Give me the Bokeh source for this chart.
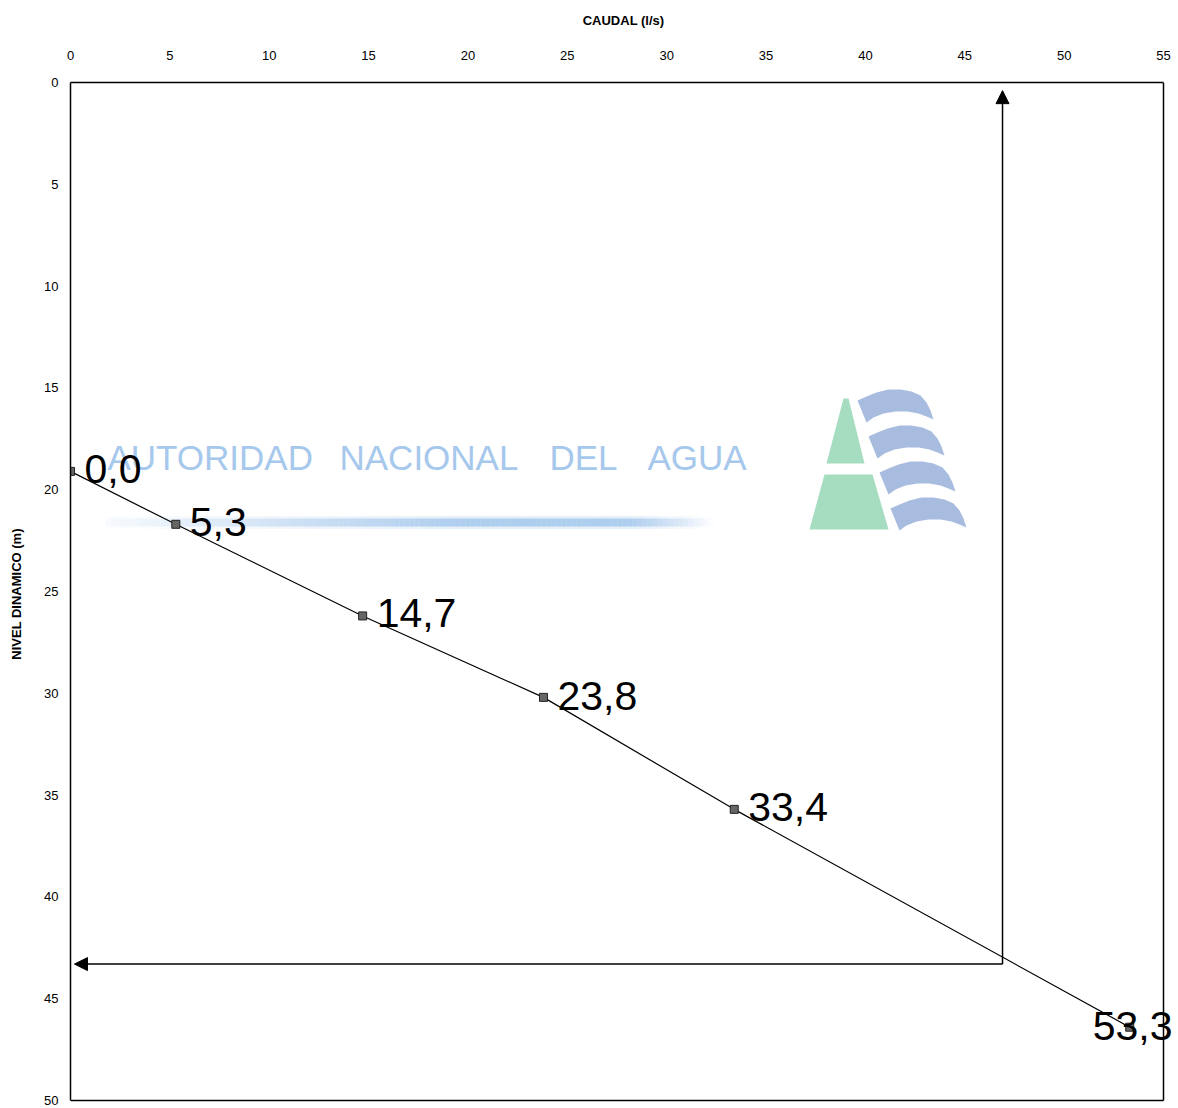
from bokeh.plotting import figure
from bokeh.models import ColumnDataSource, LabelSet, Label, Arrow, NormalHead, Range1d, FixedTicker
from bokeh.core.properties import value
from bokeh.embed import file_html
from bokeh.resources import INLINE

# ---- data ----
caudal = [0.0, 5.3, 14.7, 23.8, 33.4, 53.3]          # l/s
nivel = [19.1, 21.7, 26.2, 30.2, 35.7, 46.4]          # m
etiquetas = ["0,0", "5,3", "14,7", "23,8", "33,4", "53,3"]
x_ticks = [0, 5, 10, 15, 20, 25, 30, 35, 40, 45, 50, 55]
y_ticks = [0, 5, 10, 15, 20, 25, 30, 35, 40, 45, 50]
caudal_diseno = 46.9
nivel_diseno = 43.3
arrow_top = 0.4
arrow_left = 0.2

FONT = "Liberation Sans"
X_MAX = x_ticks[-1]
Y_MAX = y_ticks[-1]
# the drawing area runs a little past the box so the last label is not cut
X_END = X_MAX * 1106 / 1093
Y_END = Y_MAX * 1023 / 1018

p = figure(width=1178, height=1108, output_backend="svg", toolbar_location=None,
           x_range=Range1d(0, X_END), y_range=Range1d(Y_END, 0),
           x_axis_location="above",
           min_border_left=70, min_border_top=82, min_border_right=2, min_border_bottom=3)
p.background_fill_color = "white"
p.border_fill_color = "white"
p.grid.visible = False
p.outline_line_color = None

for ax, ticks in ((p.xaxis, x_ticks), (p.yaxis, y_ticks)):
    ax.ticker = FixedTicker(ticks=ticks)
    ax.bounds = (ticks[0], ticks[-1])
    ax.major_tick_out = 0
    ax.major_tick_in = 0
    ax.minor_tick_out = 0
    ax.minor_tick_in = 0
    ax.axis_line_color = "black"
    ax.axis_line_width = 1.5
    ax.major_label_text_font = FONT
    ax.major_label_text_font_size = "13px"
    ax.major_label_text_color = "black"
    ax.axis_label_text_font = FONT
    ax.axis_label_text_font_size = "13px"
    ax.axis_label_text_font_style = "bold"
    ax.axis_label_text_color = "black"

p.xaxis.axis_label = "CAUDAL (l/s)"
p.xaxis.major_label_standoff = 23
p.xaxis.axis_label_standoff = 20
p.yaxis.axis_label = "NIVEL DINAMICO (m)"
p.yaxis.major_label_standoff = 12
p.yaxis.axis_label_standoff = 17

# right and bottom sides of the box
p.segment(x0=[X_MAX, 0], y0=[0, Y_MAX], x1=[X_MAX, X_MAX], y1=[Y_MAX, Y_MAX],
          line_color="black", line_width=1.5)

# ---- decoration: watermark (pixel positions converted to data) ----
def dx(px):
    return (px - 70) / (1093 / 55)

def dy(py):
    return (py - 82) / (1018 / 50)

# gradient band
band_x = []
band_a = []
n = 120
for i in range(n):
    t = (i + 0.5) / n
    band_x.append(dx(105 + t * 608))
    if t < 0.6:
        a = 0.05 + 0.6 * (t / 0.6)
    elif t < 0.86:
        a = 0.65
    else:
        a = 0.65 * (1 - (t - 0.86) / 0.14)
    band_a.append(a)
slice_w = dx(105 + 608 / n) - dx(105)
p.rect(x=band_x, y=[dy(522)] * n, width=slice_w, height=8, height_units="screen",
       fill_color="#90bbe8", fill_alpha=band_a, line_color=None)
p.rect(x=band_x, y=[dy(522)] * n, width=slice_w, height=13, height_units="screen",
       fill_color="#90bbe8", fill_alpha=[a * 0.35 for a in band_a], line_color=None)

# logo
green_px = [[(843, 398), (848, 398), (864, 463), (826, 463)],
            [(824, 474), (872, 474), (888, 529), (809, 529)]]
p.patches([[dx(a) for a, b in g] for g in green_px],
          [[dy(b) for a, b in g] for g in green_px],
          fill_color="#a6dcbf", line_color=None)

flag_px = [(857, 400), (866, 396), (876, 392), (888, 389), (900, 389), (911, 391),
           (920, 395), (926, 402), (930, 410), (933, 419), (926, 416), (918, 413),
           (907, 411), (895, 411), (883, 413), (873, 417), (866, 422)]
blue_xs, blue_ys = [], []
for k in range(4):
    blue_xs.append([dx(a + 11 * k) for a, b in flag_px])
    blue_ys.append([dy(b + 36 * k) for a, b in flag_px])
p.patches(blue_xs, blue_ys, fill_color="#a7bcdf", line_color=None)

wm_words = ["AUTORIDAD", "NACIONAL", "DEL", "AGUA"]
wm_left = [107, 339, 549, 647]
for w, lx in zip(wm_words, wm_left):
    p.add_layout(Label(x=dx(lx), y=dy(457), text=w, text_font=FONT,
                       text_font_size="35px", text_color="#a6c8ec",
                       text_baseline="middle", level="underlay"))

# ---- data series ----
src = ColumnDataSource(dict(x=caudal, y=nivel, lab=etiquetas,
                            xo=[14, 14, 14, 14, 14, -37], yo=[2, 2, 3, 1, 2, 1]))
p.line("x", "y", source=src, line_color="black", line_width=1.2)
p.scatter("x", "y", source=src, marker="square", size=8, fill_color="#666666",
          line_color="#222222", line_width=1)

labels = LabelSet(x="x", y="y", text="lab", source=src, x_offset="xo", y_offset="yo",
                  text_font=value(FONT), text_font_size="41px", text_color="black",
                  text_baseline="middle")
p.add_layout(labels)

# ---- design arrows ----
p.add_layout(Arrow(end=NormalHead(size=13, fill_color="black", line_color="black"),
                   x_start=caudal_diseno, y_start=nivel_diseno,
                   x_end=caudal_diseno, y_end=arrow_top,
                   line_color="black", line_width=1.5))
p.add_layout(Arrow(end=NormalHead(size=13, fill_color="black", line_color="black"),
                   x_start=caudal_diseno, y_start=nivel_diseno,
                   x_end=arrow_left, y_end=nivel_diseno,
                   line_color="black", line_width=1.5))

open("out.html", "w").write(file_html(p, INLINE))
